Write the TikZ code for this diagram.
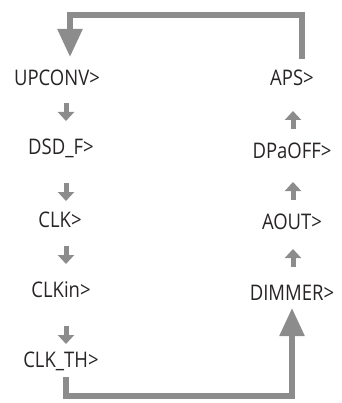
\documentclass[tikz,border=0pt]{standalone}
\usepackage{fontspec}
\setmainfont[FakeStretch=0.86]{Open Sans}
\usetikzlibrary{arrows.meta}
\definecolor{linegray}{RGB}{140,140,140}
\definecolor{textgray}{RGB}{40,36,37}
\tikzset{
  lbl/.style={anchor=base, inner sep=0pt, text=textgray, font=\fontsize{21.5}{24}\selectfont},
  smallarr/.style={draw=linegray, line width=5pt, -{Triangle[width=16pt,length=9pt]}},
  bigarr/.style={draw=linegray, line width=5.5pt, -{Triangle[width=24pt,length=28pt]}}
}
\begin{document}
\begin{tikzpicture}[x=1pt,y=-1pt]
\useasboundingbox (0,0) rectangle (341,403);
% left column
\node[lbl] (upconv) at (57,86) {UPCONV>};
\node[lbl] (dsdf) at (61,155) {DSD\_F>};
\node[lbl] (clk) at (60,227) {CLK>};
\node[lbl] (clkin) at (61,297) {CLKin>};
\node[lbl] (clkth) at (61,367) {CLK\_TH>};
% right column
\node[lbl] (aps) at (292,86) {APS>};
\node[lbl] (dpaoff) at (292,158) {DPaOFF>};
\node[lbl] (aout) at (292,229) {AOUT>};
\node[lbl] (dimmer) at (292,300) {DIMMER>};
% small arrow end points
\coordinate (l1s) at (66,103); \coordinate (l1e) at (66,121);
\coordinate (l2s) at (66,183); \coordinate (l2e) at (66,201);
\coordinate (l3s) at (66,246); \coordinate (l3e) at (66,264);
\coordinate (l4s) at (66,326); \coordinate (l4e) at (66,344);
\coordinate (r1s) at (293,129); \coordinate (r1e) at (293,111);
\coordinate (r2s) at (293,200); \coordinate (r2e) at (293,182);
\coordinate (r3s) at (293,267); \coordinate (r3e) at (293,249);
\draw[smallarr] (l1s) -- (l1e);
\draw[smallarr] (l2s) -- (l2e);
\draw[smallarr] (l3s) -- (l3e);
\draw[smallarr] (l4s) -- (l4e);
\draw[smallarr] (r1s) -- (r1e);
\draw[smallarr] (r2s) -- (r2e);
\draw[smallarr] (r3s) -- (r3e);
% loop connectors
\coordinate (apsTop) at (302,59);
\coordinate (upTip) at (70,57);
\draw[bigarr] (apsTop) -- (302,15) -- (70,15) -- (upTip);
\coordinate (thBot) at (66,377);
\coordinate (dimTip) at (292,308);
\draw[bigarr] (thBot) -- (66,396) -- (292,396) -- (dimTip);
\end{tikzpicture}
\end{document}
